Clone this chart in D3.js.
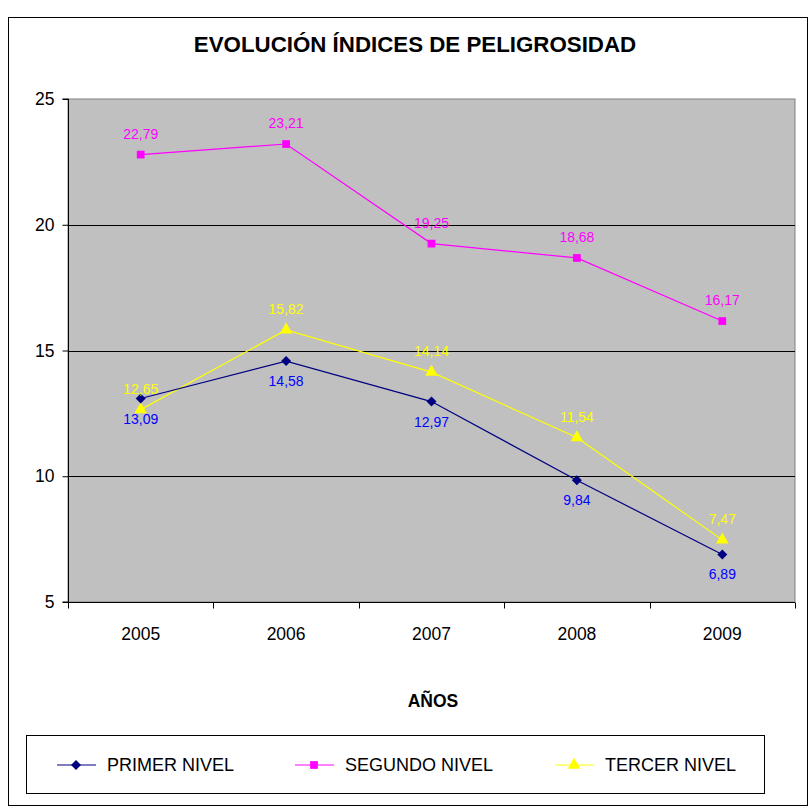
<!DOCTYPE html>
<html>
<head>
<meta charset="utf-8">
<script src="https://cdn.jsdelivr.net/npm/d3@7"></script>
<style>
  body { margin: 0; background: #fff; }
  text { font-family: "Liberation Sans", Arial, sans-serif; }
</style>
</head>
<body>
<svg width="810" height="809"></svg>
<script>
// chart data
var years = ['2005', '2006', '2007', '2008', '2009'];
var primer = [13.09, 14.58, 12.97, 9.84, 6.89];
var segundo = [22.79, 23.21, 19.25, 18.68, 16.17];
var tercer = [12.65, 15.82, 14.14, 11.54, 7.47];
var yTicks = [5, 10, 15, 20, 25];
var seriesNames = ['PRIMER NIVEL', 'SEGUNDO NIVEL', 'TERCER NIVEL'];

// diamond = square turned 45 degrees (the d3 one is too narrow)
var series = [
    { name: seriesNames[0], values: primer, line: '#000080', label: '#0000ff', sym: d3.symbolSquare, size: 50, rot: 45, below: true },
    { name: seriesNames[1], values: segundo, line: '#ff00ff', label: '#ff00ff', sym: d3.symbolSquare, size: 60, rot: 0, below: false },
    { name: seriesNames[2], values: tercer, line: '#ffff00', label: '#ffff00', sym: d3.symbolTriangle, size: 70, rot: 0, below: false }
];

var svg = d3.select('svg');
var fmt = function (v) { return v.toFixed(2).replace('.', ','); };

// outer frame
svg.append('rect')
    .attr('x', 8.5).attr('y', 17.5)
    .attr('width', 799).attr('height', 788)
    .attr('fill', '#fff').attr('stroke', '#000').attr('stroke-width', 1);

svg.append('text')
    .attr('x', 415).attr('y', 52)
    .attr('text-anchor', 'middle')
    .attr('font-size', '22.3px').attr('font-weight', 'bold')
    .text('EVOLUCIÓN ÍNDICES DE PELIGROSIDAD');

var pLeft = 68, pRight = 795, pTop = 99, pBottom = 602;

var x = d3.scaleBand().domain(years).range([pLeft, pRight]);
var y = d3.scaleLinear().domain([5, 25]).range([pBottom, pTop]);

// plot area
svg.append('rect')
    .attr('x', pLeft).attr('y', pTop)
    .attr('width', pRight - pLeft).attr('height', pBottom - pTop)
    .attr('fill', '#c0c0c0').attr('stroke', '#808080');

// gridlines
svg.append('g').selectAll('line')
    .data(yTicks.slice(1, 4))
    .enter().append('line')
    .attr('x1', pLeft).attr('x2', pRight)
    .attr('y1', function (d) { return Math.round(y(d)) + 0.5; })
    .attr('y2', function (d) { return Math.round(y(d)) + 0.5; })
    .attr('stroke', '#000');

// y axis
var yAxis = svg.append('g')
    .attr('transform', 'translate(' + (pLeft + 0.5) + ',0)')
    .call(d3.axisLeft(y).tickValues(yTicks).tickSize(6).tickPadding(8));
yAxis.selectAll('text').attr('font-size', '17.5px').attr('fill', '#000')
    .style('font-family', '"Liberation Sans", Arial, sans-serif');
yAxis.selectAll('path, line').attr('stroke', '#000');
yAxis.select('.domain').attr('d', 'M-6,' + pTop + 'H0V' + pBottom + 'H-6');

// x axis, ticks between categories
var xAxis = svg.append('g').attr('transform', 'translate(0,' + (pBottom + 0.5) + ')');
xAxis.append('line')
    .attr('x1', pLeft).attr('x2', pRight)
    .attr('stroke', '#000');
xAxis.selectAll('.tk')
    .data(years.concat(['end']))
    .enter().append('line')
    .attr('x1', function (d, i) { return Math.round(pLeft + i * x.step()) + 0.5; })
    .attr('x2', function (d, i) { return Math.round(pLeft + i * x.step()) + 0.5; })
    .attr('y1', 0).attr('y2', 6)
    .attr('stroke', '#000');
xAxis.selectAll('text')
    .data(years)
    .enter().append('text')
    .attr('x', function (d) { return x(d) + x.bandwidth() / 2; })
    .attr('y', 37)
    .attr('text-anchor', 'middle')
    .attr('font-size', '17.5px')
    .text(function (d) { return d; });

svg.append('text')
    .attr('x', 433).attr('y', 707)
    .attr('text-anchor', 'middle')
    .attr('font-size', '17.5px').attr('font-weight', 'bold')
    .text('AÑOS');

var cx = function (d, i) { return x(years[i]) + x.bandwidth() / 2; };
var line = d3.line().x(cx).y(function (d) { return y(d); });

// draw order: tercer, segundo, primer on top like the original
[series[2], series[1], series[0]].forEach(function (s) {
    var g = svg.append('g');
    g.append('path')
        .attr('d', line(s.values))
        .attr('fill', 'none')
        .attr('stroke', s.line)
        .attr('stroke-width', 1.2);
    g.selectAll('.pt')
        .data(s.values)
        .enter().append('path')
        .attr('d', d3.symbol().type(s.sym).size(s.size))
        .attr('transform', function (d, i) {
            return 'translate(' + cx(d, i) + ',' + y(d) + ') rotate(' + s.rot + ')';
        })
        .attr('fill', s.line);
});

[series[2], series[1], series[0]].forEach(function (s) {
    svg.append('g').selectAll('text')
        .data(s.values)
        .enter().append('text')
        .attr('x', cx)
        .attr('y', function (d) { return y(d) + (s.below ? 25 : -16); })
        .attr('text-anchor', 'middle')
        .attr('font-size', '14px')
        .attr('fill', s.label)
        .text(fmt);
});

// legend
svg.append('rect')
    .attr('x', 26.5).attr('y', 735.5)
    .attr('width', 738).attr('height', 58)
    .attr('fill', '#fff').attr('stroke', '#000');

var legX = [57, 295, 555];
series.forEach(function (s, i) {
    var g = svg.append('g').attr('transform', 'translate(' + legX[i] + ',765)');
    g.append('line').attr('x1', 0).attr('x2', 39).attr('stroke', s.line).attr('stroke-width', 1.2);
    g.append('path')
        .attr('d', d3.symbol().type(s.sym).size(s.size))
        .attr('transform', 'translate(19,0) rotate(' + s.rot + ')')
        .attr('fill', s.line);
    g.append('text')
        .attr('x', 50).attr('y', 6)
        .attr('font-size', '18px')
        .text(s.name);
});
</script>
</body>
</html>
